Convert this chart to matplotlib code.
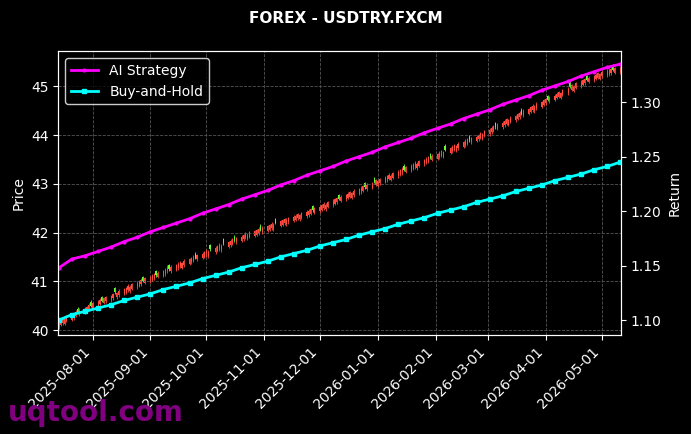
import matplotlib.pyplot as plt
import matplotlib.dates as mdates
import numpy as np
import pandas as pd

plt.rcParams.update({
    'axes.facecolor': 'black',
    'figure.facecolor': 'black',
    'text.color': 'white',
    'axes.labelcolor': 'white',
    'axes.edgecolor': 'white',
    'xtick.color': 'white',
    'ytick.color': 'white',
    'font.size': 10,
})

# daily closes, business days 2025-07-14 .. 2026-05-11
close = [
    40.15, 40.20, 40.23, 40.22, 40.28, 40.30, 40.33, 40.38, 40.36, 40.42,
    40.45, 40.47, 40.52, 40.50, 40.55, 40.58, 40.62, 40.60, 40.65, 40.68,
    40.70, 40.74, 40.78, 40.76, 40.81, 40.84, 40.86, 40.91, 40.89, 40.94,
    40.97, 41.00, 41.03, 41.01, 41.06, 41.09, 41.12, 41.15, 41.13, 41.18,
    41.21, 41.24, 41.30, 41.25, 41.30, 41.33, 41.36, 41.39, 41.37, 41.42,
    41.45, 41.48, 41.51, 41.49, 41.54, 41.57, 41.60, 41.63, 41.61, 41.66,
    41.69, 41.72, 41.75, 41.73, 41.78, 41.80, 41.83, 41.86, 41.84, 41.89,
    41.92, 41.95, 41.98, 41.96, 42.01, 42.03, 42.05, 42.08, 42.06, 42.10,
    42.13, 42.15, 42.18, 42.16, 42.20, 42.23, 42.25, 42.28, 42.26, 42.30,
    42.33, 42.35, 42.38, 42.36, 42.40, 42.43, 42.45, 42.48, 42.46, 42.50,
    42.53, 42.56, 42.59, 42.57, 42.62, 42.65, 42.68, 42.71, 42.69, 42.74,
    42.77, 42.80, 42.83, 42.81, 42.86, 42.89, 42.92, 42.95, 42.93, 42.98,
    43.01, 43.04, 43.07, 43.05, 43.10, 43.13, 43.16, 43.19, 43.17, 43.22,
    43.25, 43.28, 43.31, 43.29, 43.34, 43.37, 43.40, 43.43, 43.41, 43.46,
    43.49, 43.52, 43.55, 43.53, 43.58, 43.61, 43.64, 43.67, 43.65, 43.70,
    43.73, 43.76, 43.79, 43.77, 43.82, 43.85, 43.88, 43.91, 43.89, 43.94,
    43.97, 44.00, 44.04, 44.02, 44.08, 44.11, 44.15, 44.18, 44.16, 44.22,
    44.25, 44.29, 44.32, 44.30, 44.36, 44.39, 44.43, 44.46, 44.44, 44.50,
    44.53, 44.57, 44.60, 44.58, 44.64, 44.67, 44.71, 44.74, 44.72, 44.78,
    44.81, 44.85, 44.88, 44.86, 44.92, 44.95, 44.99, 45.02, 45.00, 45.06,
    45.09, 45.12, 45.15, 45.13, 45.18, 45.21, 45.24, 45.27, 45.25, 45.30,
    45.32, 45.34, 45.36, 45.34, 45.37, 45.38,
]
# days closing below their open (green in this chart)
down_days = [8, 13, 17, 22, 33, 38, 43, 53, 59, 64, 68, 78, 84, 98, 108,
             118, 121, 133, 143, 149, 158, 168, 178, 188, 196, 203, 213]
body_up = 0.09
body_down = 0.08
wick = 0.03

# weekly strategy returns
ai_ret = [1.148, 1.156, 1.159, 1.163, 1.167, 1.172, 1.176, 1.181, 1.185, 1.189,
          1.193, 1.198, 1.202, 1.206, 1.211, 1.215, 1.219, 1.224, 1.228, 1.233,
          1.237, 1.241, 1.246, 1.250, 1.254, 1.259, 1.263, 1.267, 1.272, 1.276,
          1.280, 1.285, 1.289, 1.293, 1.298, 1.302, 1.306, 1.311, 1.315, 1.319,
          1.324, 1.328, 1.332, 1.335]
bh_ret = [1.100, 1.105, 1.108, 1.111, 1.114, 1.118, 1.121, 1.124, 1.128, 1.131,
          1.134, 1.138, 1.141, 1.144, 1.148, 1.151, 1.154, 1.158, 1.161, 1.164,
          1.168, 1.171, 1.174, 1.178, 1.181, 1.184, 1.188, 1.191, 1.194, 1.198,
          1.201, 1.204, 1.208, 1.211, 1.214, 1.218, 1.221, 1.224, 1.228, 1.231,
          1.234, 1.238, 1.241, 1.245]

dates = pd.bdate_range('2025-07-14', periods=len(close))
wdates = pd.date_range('2025-07-14', dates[-1], periods=len(ai_ret))

fig, ax = plt.subplots(figsize=(6.91, 4.34), dpi=100)
fig.subplots_adjust(left=0.084, right=0.899, top=0.882, bottom=0.228)

for i, (d, c) in enumerate(zip(dates, close)):
    if i in down_days:
        o, col = c + body_down, '#66ff33'
    else:
        o, col = c - body_up, '#ff4a3d'
    lo, hi = min(o, c), max(o, c)
    ax.vlines(d, lo - wick, hi + wick, color=col, linewidth=0.6)
    ax.bar(d, hi - lo, bottom=lo, width=0.6, color=col, linewidth=0)

ax.set_ylim(39.9, 45.72)
ax.set_xlim(dates[0] - pd.Timedelta(days=0.5), dates[-1] + pd.Timedelta(days=0.5))
ax.set_ylabel('Price')
ax.grid(True, linestyle='--', color='#555555', linewidth=0.6)
ax.xaxis.set_major_locator(mdates.MonthLocator())
ax.xaxis.set_major_formatter(mdates.DateFormatter('%Y-%m-%d'))
plt.setp(ax.get_xticklabels(), rotation=45, ha='right')

ax2 = ax.twinx()
ax2.plot(wdates, ai_ret, '.-', color='#ff00ff', linewidth=2, markersize=4, label='AI Strategy')
ax2.plot(wdates, bh_ret, 's-', color='#00ffff', linewidth=2, markersize=2.5, label='Buy-and-Hold')
ax2.set_ylim(1.0862, 1.3468)
ax2.set_ylabel('Return')
ax2.legend(loc='upper left', facecolor='black', edgecolor='white')

fig.suptitle('FOREX - USDTRY.FXCM', fontweight='bold', fontsize=11, y=0.975)
fig.text(0.012, 0.03, 'uqtool.com', color='#800080', fontsize=20, fontweight='bold')

plt.savefig('out.png')
